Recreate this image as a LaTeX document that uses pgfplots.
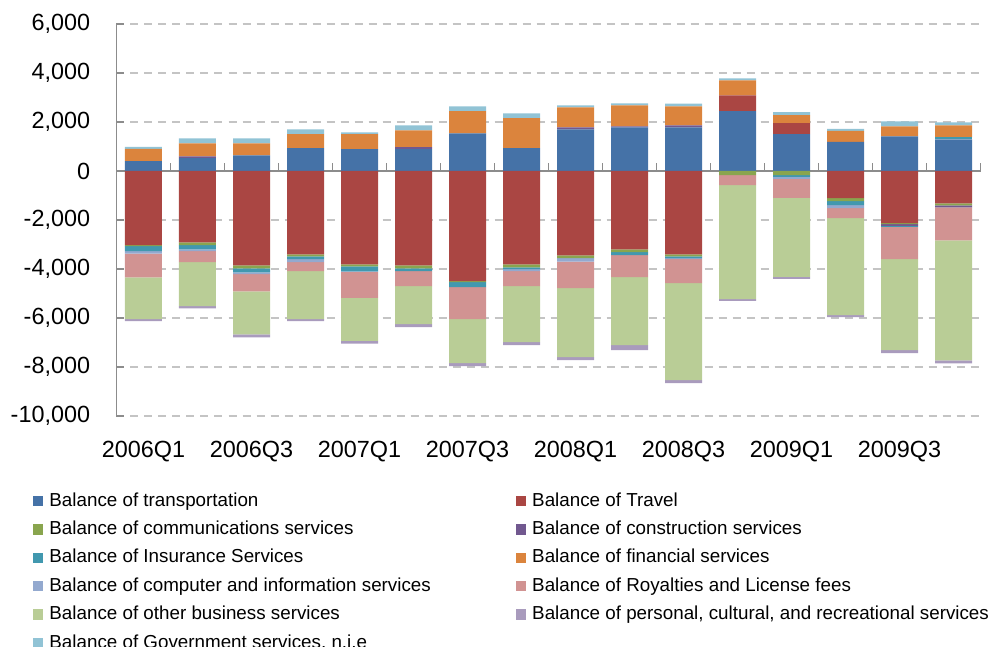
\documentclass[border=0pt]{standalone}
\usepackage{pgfplots}
\usepackage{pgfplotstable}
\usepackage{fontspec}
\setmainfont{Liberation Sans}
\pgfplotsset{compat=1.18}

\definecolor{ctr}{HTML}{4572A7}
\definecolor{ctv}{HTML}{AA4643}
\definecolor{cco}{HTML}{89A54E}
\definecolor{ccs}{HTML}{71588F}
\definecolor{cin}{HTML}{4198AF}
\definecolor{cfi}{HTML}{DB843D}
\definecolor{ccp}{HTML}{93A9CF}
\definecolor{cro}{HTML}{D19392}
\definecolor{cob}{HTML}{B9CD96}
\definecolor{cpe}{HTML}{A99BBD}
\definecolor{cgo}{HTML}{91C3D5}
\definecolor{axgray}{HTML}{8C8C8C}
\definecolor{grgray}{HTML}{C4C4C4}

% quarterly balances; x = quarter index from 2006Q1
\pgfplotstableread{
x  tr    tv     co    cs   in    fi    cp    ro     ob     pe    go
0  400   -3030  -40   0    -200  500   -100  -970   -1710  -80   80
1  530   -2910  -120  70   -165  530   -80   -440   -1800  -90   200
2  640   -3850  -120  0    -165  490   -70   -710   -1755  -120  200
3  930   -3400  -80   0    -120  570   -120  -370   -1960  -80   200
4  890   -3810  -80   0    -205  610   -20   -1060  -1755  -120  80
5  890   -3850  -120  80   -120  690   0     -610   -1550  -120  200
6  1540  -4500  -40   0    -205  900   0     -1305  -1795  -120  200
7  930   -3810  -120  0    -80   1225  -80   -610   -2285  -120  200
8  1700  -3440  -120  80   0     815   -135  -1090  -2815  -120  80
9  1780  -3195  -120  40   -120  860   0     -900   -2775  -205  80
10 1780  -3400  -80   80   -80   775   -40   -980   -3960  -120  120
11 2440  650    -165  0    0     610   0     -410   -4650  -80   80
12 1500  450    -165  0    -80   330   -80   -775   -3225  -80   120
13 1185  -1110  -120  0    -165  450   -120  -410   -3960  -80   80
14 1415  -2130  -40   -70  -40   410   0     -1320  -3710  -120  200
15 1295  -1320  -80   -80  80    490   0     -1350  -4900  -120  120
}\svc

\pgfplotsset{
  base/.style={
    scale only axis, width=432pt, height=196pt,
    ybar stacked, bar width=18.5pt,
    xmin=-0.5, xmax=15.5, ymin=-10000, ymax=6000},
  sqleg/.style={legend image code/.code={\path[##1] (0pt,-2.6pt) rectangle (5.2pt,2.6pt);}},
}

\newcommand\pos[3]{%
  \addplot[fill=#2, draw=none, sqleg] table[x=x, y expr={max(\thisrow{#1},0)}] {\svc};
  \addlegendentry{#3}}
\newcommand\negp[2]{%
  \addplot[fill=#2, draw=none] table[x=x, y expr={min(\thisrow{#1},0)}] {\svc};}

\begin{document}
\begin{tikzpicture}
% positive parts, axes, grid and legend
\begin{axis}[
  base,
  axis x line=middle, axis y line=left,
  axis line style={-, draw=axgray, line width=0.9pt},
  hide obscured x ticks=false, hide obscured y ticks=false,
  tick align=inside, major tick length=4pt,
  tick style={draw=axgray, line width=0.9pt},
  xtick={-0.5,0.5,...,15.5}, xticklabel={\phantom{0}},
  extra x ticks={0,2,...,14},
  extra x tick labels={2006Q1,2006Q3,2007Q1,2007Q3,2008Q1,2008Q3,2009Q1,2009Q3},
  extra x tick style={major tick length=0pt,
    xticklabel style={anchor=north, inner sep=0pt, yshift=-135pt}},
  ytick={-10000,-8000,...,6000},
  scaled y ticks=false,
  yticklabel style={anchor=east, inner sep=0pt, xshift=-13pt},
  /pgf/number format/.cd, 1000 sep={,}, assume math mode=true, /pgfplots/.cd,
  tick label style={font=\fontsize{11.7}{14}\selectfont},
  ymajorgrids,
  major grid style={draw=grgray, dash pattern=on 4pt off 3pt, line width=0.8pt},
  legend columns=2,
  legend cell align=left,
  legend style={draw=none, fill=none, inner sep=0pt, outer sep=0pt,
    at={(axis description cs:-0.0966,-0.194)}, anchor=north west,
    font=\fontsize{9.4}{11}\selectfont,
    row sep=5.2pt,
    nodes={inner sep=0pt, text height=7pt, text depth=2pt},
    /tikz/every odd column/.style={column sep=3pt},
    /tikz/every even column/.style={column sep=42.5pt}},
]
\pos{tr}{ctr}{Balance of transportation}
\pos{tv}{ctv}{Balance of Travel}
\pos{co}{cco}{Balance of communications services}
\pos{cs}{ccs}{Balance of construction services}
\pos{in}{cin}{Balance of Insurance Services}
\pos{fi}{cfi}{Balance of financial services}
\pos{cp}{ccp}{Balance of computer and information services}
\pos{ro}{cro}{Balance of Royalties and License fees}
\pos{ob}{cob}{Balance of other business services}
\pos{pe}{cpe}{Balance of personal, cultural, and recreational services}
\pos{go}{cgo}{Balance of Government services, n.i.e}
\end{axis}
% negative parts, stacked downward from zero
\begin{axis}[base, axis lines=none, ticks=none]
\negp{tr}{ctr}
\negp{tv}{ctv}
\negp{co}{cco}
\negp{cs}{ccs}
\negp{in}{cin}
\negp{fi}{cfi}
\negp{cp}{ccp}
\negp{ro}{cro}
\negp{ob}{cob}
\negp{pe}{cpe}
\negp{go}{cgo}
\end{axis}
\pgfresetboundingbox
\path (-58.25pt,-115.5pt) rectangle (437.25pt,208pt);
\end{tikzpicture}
\end{document}
